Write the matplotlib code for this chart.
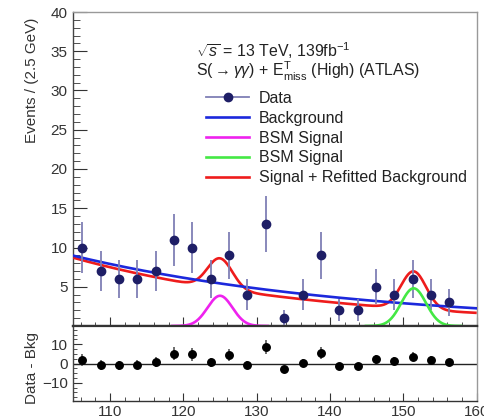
import numpy as np
import matplotlib
matplotlib.use("Agg")
import matplotlib.pyplot as plt
from matplotlib.lines import Line2D
from matplotlib.ticker import MultipleLocator, FixedLocator

plt.rcParams['font.family'] = ['Liberation Sans', 'DejaVu Sans']
plt.rcParams['mathtext.fontset'] = 'custom'
plt.rcParams['mathtext.rm'] = 'Liberation Sans'
plt.rcParams['mathtext.it'] = 'Liberation Sans:italic'
plt.rcParams['mathtext.bf'] = 'Liberation Sans:bold'

# Diphoton mass bins (2.5 GeV wide), GeV
mass = [106.25, 108.75, 111.25, 113.75, 116.25, 118.75, 121.25, 123.75,
        126.25, 128.75, 131.25, 133.75, 136.25, 138.75, 141.25, 143.75,
        146.25, 148.75, 151.25, 153.75, 156.25]
events = [10, 7, 6, 6, 7, 11, 10, 6, 9, 4, 13, 1, 4, 9, 2, 2, 5, 4, 6, 4, 3]
errors = [3.2, 2.6, 2.4, 2.4, 2.6, 3.3, 3.2, 2.4, 3.0, 2.0, 3.6, 1.0,
          2.0, 3.0, 1.4, 1.4, 2.2, 2.0, 2.4, 2.0, 1.7]
residual = [1.9, -0.7, -1.0, -0.7, 0.7, 5.2, 4.7, 0.7, 4.3, -0.7, 8.8, -3.1,
            0.3, 5.5, -1.2, -1.2, 2.1, 1.2, 3.6, 1.7, 0.9]

# Fit model parameters
bkg_norm, bkg_slope = 8.96, 0.0251          # background-only fit at 105 GeV
refit_norm, refit_slope = 8.70, 0.0300      # refitted background
sig1_mass, sig1_height, sig1_width = 125.0, 3.85, 1.7
sig2_mass, sig2_height, sig2_width = 151.4, 4.8, 1.7
sig_window = 6.5

x_lo, x_hi = 105, 160

def expo(x, norm, slope):
    return norm * np.exp(-slope * (x - x_lo))

def gauss(x, mu, h, s):
    return h * np.exp(-0.5 * ((x - mu) / s) ** 2)

W, H, DPI = 484, 420, 100
fig = plt.figure(figsize=(W / DPI, H / DPI), dpi=DPI)

left, right = 73.3 / W, 476.7 / W
ax = fig.add_axes([left, 1 - 326 / H, right - left, (326 - 12) / H])
axr = fig.add_axes([left, 1 - 401 / H, right - left, (401 - 326) / H], sharex=ax)

navy = '#1e1e66'
errc = '#7f7fb5'
blue = '#1c28dc'
red = '#ee1c1c'
magenta = '#ee22ee'
green = '#44e844'

xs = np.linspace(x_lo, x_hi, 600)
bkg = expo(xs, bkg_norm, bkg_slope)
refit = expo(xs, refit_norm, refit_slope)
sig = gauss(xs, sig1_mass, sig1_height, sig1_width) + gauss(xs, sig2_mass, sig2_height, sig2_width)

x1 = np.linspace(sig1_mass - sig_window, sig1_mass + sig_window, 200)
x2 = np.linspace(sig2_mass - sig_window, sig2_mass + sig_window, 200)

ax.plot(xs, refit + sig, color=red, lw=1.9, zorder=3, solid_capstyle='butt')
ax.plot(xs, bkg, color=blue, lw=1.9, zorder=3)
ax.plot(x1, gauss(x1, sig1_mass, sig1_height, sig1_width), color=magenta, lw=1.9,
        zorder=6, clip_on=False)
ax.plot(x2, gauss(x2, sig2_mass, sig2_height, sig2_width), color=green, lw=1.9,
        zorder=6, clip_on=False)
ax.errorbar(mass, events, yerr=errors, fmt='o', color=navy, ms=6.0,
            ecolor=errc, elinewidth=1.3, capsize=0, zorder=5)

ax.set_xlim(x_lo, x_hi)
ax.set_ylim(0, 40)
ax.yaxis.set_major_locator(FixedLocator([5, 10, 15, 20, 25, 30, 35, 40]))
ax.yaxis.set_minor_locator(MultipleLocator(1))
ax.xaxis.set_major_locator(MultipleLocator(10))
ax.xaxis.set_minor_locator(MultipleLocator(2))
ax.tick_params(axis='x', which='both', labelbottom=False)

# Residual panel
axr.axhline(0, color='#222222', lw=1.0, zorder=2)
axr.errorbar(mass, residual, yerr=errors, fmt='o', color='black', ms=5.4,
             ecolor='#555555', elinewidth=1.2, capsize=0, zorder=5)
axr.set_ylim(-19.5, 19.5)
axr.yaxis.set_major_locator(FixedLocator([-10, 0, 10]))
axr.yaxis.set_minor_locator(MultipleLocator(2.5))
axr.set_yticklabels(['\u221210', '0', '10'])

for a in (ax, axr):
    a.tick_params(which='both', direction='in', top=False, right=False,
                  colors='#333333', labelsize=11, labelcolor='#333333')
    a.spines['top'].set_color('#999999')
    a.spines['right'].set_color('#999999')
    a.spines['left'].set_color('#444444')
    a.spines['bottom'].set_color('#333333')
    for s in a.spines.values():
        s.set_linewidth(1.0)

ax.spines['bottom'].set_linewidth(1.6)
axr.spines['top'].set_linewidth(1.6)
axr.spines['top'].set_color('#333333')

ax.tick_params(axis='y', which='major', length=10, pad=4)
ax.tick_params(axis='y', which='minor', length=5)
ax.tick_params(axis='x', which='major', length=6.5)
ax.tick_params(axis='x', which='minor', length=3.2)
axr.tick_params(axis='y', which='major', length=6.5, pad=4)
axr.tick_params(axis='y', which='minor', length=3.2)
axr.tick_params(axis='x', which='major', length=6, pad=3)
axr.tick_params(axis='x', which='minor', length=3)

fig.text(32 / W, 1 - 80 / H, 'Events / (2.5 GeV)', rotation=90, ha='center',
         va='center', fontsize=11, color='#333333')
fig.text(32 / W, 1 - 368 / H, 'Data - Bkg', rotation=90, ha='center',
         va='center', fontsize=11, color='#333333')

ax.text(0.305, 0.877, r'$\sqrt{s}$ = 13 TeV, 139fb$^{-1}$', transform=ax.transAxes,
        fontsize=11.4, ha='left', va='center', color='#222222')
ax.text(0.305, 0.810,
        r'S($\rightarrow\gamma\gamma$) + E$^{\mathrm{T}}_{\mathrm{miss}}$ (High) (ATLAS)',
        transform=ax.transAxes, fontsize=11.4, ha='left', va='center', color='#222222')

handles = [
    Line2D([], [], color=errc, lw=1.3, marker='o', ms=6.0,
           markerfacecolor=navy, markeredgecolor=navy),
    Line2D([], [], color=blue, lw=1.9),
    Line2D([], [], color=magenta, lw=1.9),
    Line2D([], [], color=green, lw=1.9),
    Line2D([], [], color=red, lw=1.9),
]
labels = ['Data', 'Background', 'BSM Signal', 'BSM Signal', 'Signal + Refitted Background']
leg = ax.legend(handles, labels, loc='upper left',
                bbox_to_anchor=((206 - 73.3) / 403.4, (326 - 91) / 314),
                frameon=False, fontsize=11.5, handlelength=2.7, handletextpad=0.63,
                labelspacing=0.30, borderpad=0, borderaxespad=0)
for t in leg.get_texts():
    t.set_color('#222222')

fig.savefig('out.png', dpi=DPI)
